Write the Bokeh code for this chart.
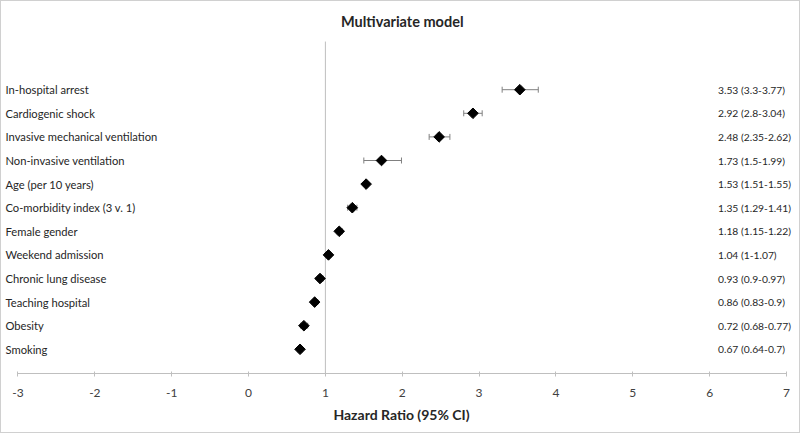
import math
from bokeh.plotting import figure
from bokeh.models import Range1d, ColumnDataSource, Whisker, TeeHead, Label, FixedTicker
from bokeh.core.properties import value
from bokeh.embed import file_html
from bokeh.resources import INLINE

# ---------------- data ----------------
labels = [
    "In-hospital arrest",
    "Cardiogenic shock",
    "Invasive mechanical ventilation",
    "Non-invasive ventilation",
    "Age (per 10 years)",
    "Co-morbidity index (3 v. 1)",
    "Female gender",
    "Weekend admission",
    "Chronic lung disease",
    "Teaching hospital",
    "Obesity",
    "Smoking",
]
hr = [3.53, 2.92, 2.48, 1.73, 1.53, 1.35, 1.18, 1.04, 0.93, 0.86, 0.72, 0.67]
ci_low = [3.3, 2.8, 2.35, 1.5, 1.51, 1.29, 1.15, 1.0, 0.9, 0.83, 0.68, 0.64]
ci_high = [3.77, 3.04, 2.62, 1.99, 1.55, 1.41, 1.22, 1.07, 0.97, 0.9, 0.77, 0.7]
x_ticks = [-3, -2, -1, 0, 1, 2, 3, 4, 5, 6, 7]
ref_value = 1
title_text = "Multivariate model"
x_title = "Hazard Ratio (95% CI)"

# ---------------- build ----------------
rows = list(range(len(labels)))
value_text = [f"{h:g} ({l:g}-{u:g})" for h, l, u in zip(hr, ci_low, ci_high)]
src = ColumnDataSource(dict(y=rows, hr=hr, lo=ci_low, hi=ci_high,
                            label=labels, vtext=value_text))

FONT = "Lato"
TEXT_COLOR = "#262626"
GRAY = "#bfbfbf"

x_lo, x_hi = -3.2147, 7.1952
y_bottom, y_top = 12.025, -3.737

p = figure(width=800, height=433, output_backend="svg", toolbar_location=None,
           x_range=Range1d(x_lo, x_hi), y_range=Range1d(y_bottom, y_top),
           y_axis_location=None, min_border_left=0, min_border_right=0,
           min_border_top=0, min_border_bottom=61)
p.outline_line_color = None
p.xgrid.visible = False
p.ygrid.visible = False

ax = p.xaxis[0]
ax.ticker = FixedTicker(ticks=x_ticks)
ax.major_label_overrides = {t: str(t) for t in x_ticks}
ax.bounds = (x_ticks[0], x_ticks[-1])
ax.axis_line_color = GRAY
ax.major_tick_line_color = GRAY
ax.major_tick_in = 2
ax.major_tick_out = 3
ax.minor_tick_line_color = None
ax.major_label_text_font = FONT
ax.major_label_text_font_size = "12px"
ax.major_label_text_color = "#404040"
ax.major_label_standoff = 12
ax.axis_label = x_title
ax.axis_label_text_font = FONT
ax.axis_label_text_font_style = "bold"
ax.axis_label_text_font_size = "14px"
ax.axis_label_text_color = TEXT_COLOR
ax.axis_label_standoff = 6

# reference line at HR = 1
p.segment(x0=[ref_value], x1=[ref_value], y0=[y_bottom], y1=[-2.04],
          line_color=GRAY, line_width=1)

# error bars
whisk = Whisker(source=src, base="y", lower="lo", upper="hi", dimension="width",
                line_color="#808080", line_width=1,
                lower_head=TeeHead(size=6, line_color="#808080", line_width=1),
                upper_head=TeeHead(size=6, line_color="#808080", line_width=1))
p.add_layout(whisk)

# point estimates (diamonds)
p.scatter(x="hr", y="y", source=src, marker="square", angle=math.pi / 4,
          size=7.5, fill_color="black", line_color="black")

# row labels
p.text(x=x_lo, y="y", text="label", source=src, x_offset=4,
       text_align="left", text_baseline="middle",
       text_font=value(FONT), text_font_size="11.2px", text_color=TEXT_COLOR)

# value column
p.text(x=x_ticks[-1], y="y", text="vtext", source=src, x_offset=-68.5,
       text_align="left", text_baseline="middle",
       text_font=value(FONT), text_font_size="10.3px", text_color=TEXT_COLOR)

# title
p.add_layout(Label(x=(x_ticks[0] + x_ticks[-1]) / 2, y=-2.89, text=title_text,
                   text_align="center", text_baseline="middle",
                   text_font=FONT, text_font_style="bold",
                   text_font_size="14.5px", text_color=TEXT_COLOR))

p.styles = {"border": "1px solid #d0d0d0", "box-sizing": "border-box"}

open("out.html", "w").write(file_html(p, INLINE))
